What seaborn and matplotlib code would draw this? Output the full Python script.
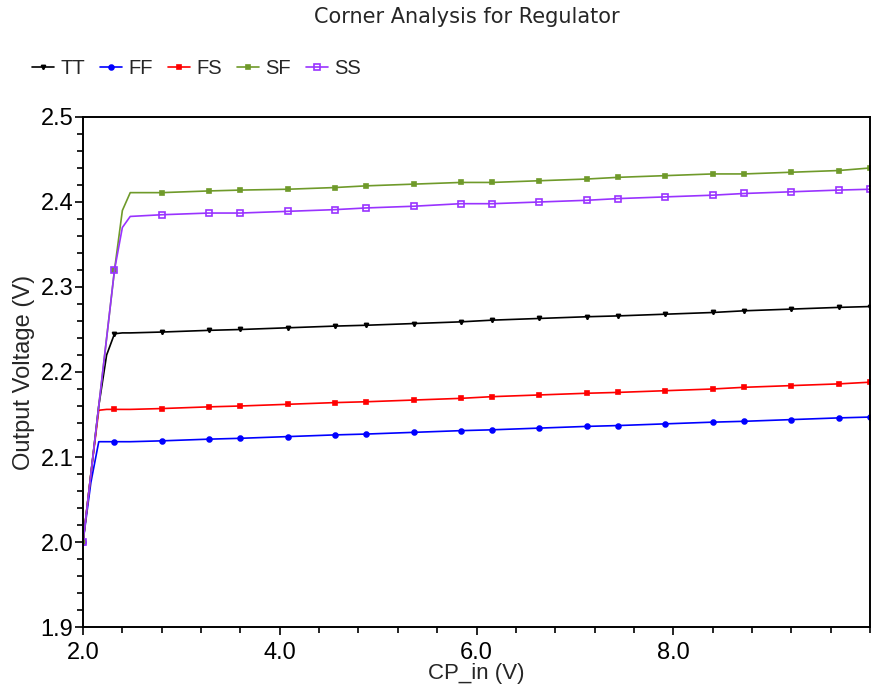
import matplotlib
matplotlib.use("Agg")
import matplotlib.pyplot as plt
import seaborn as sns
from matplotlib.ticker import MultipleLocator, FormatStrFormatter

# data
cp_in = [2.0, 2.08, 2.16, 2.24, 2.32, 2.40, 2.48,
         2.8, 3.28, 3.6, 4.08, 4.56, 4.88, 5.36, 5.84, 6.16, 6.64,
         7.12, 7.44, 7.92, 8.4, 8.72, 9.2, 9.68, 10.0]

tt = [2.0, 2.08, 2.16, 2.22, 2.245, 2.246, 2.246,
      2.247, 2.249, 2.250, 2.252, 2.254, 2.255, 2.257, 2.259, 2.261, 2.263,
      2.265, 2.266, 2.268, 2.270, 2.272, 2.274, 2.276, 2.277]
ff = [2.0, 2.07, 2.118, 2.118, 2.118, 2.118, 2.118,
      2.119, 2.121, 2.122, 2.124, 2.126, 2.127, 2.129, 2.131, 2.132, 2.134,
      2.136, 2.137, 2.139, 2.141, 2.142, 2.144, 2.146, 2.147]
fs = [2.0, 2.08, 2.155, 2.156, 2.156, 2.156, 2.156,
      2.157, 2.159, 2.160, 2.162, 2.164, 2.165, 2.167, 2.169, 2.171, 2.173,
      2.175, 2.176, 2.178, 2.180, 2.182, 2.184, 2.186, 2.188]
sf = [2.0, 2.08, 2.16, 2.24, 2.32, 2.39, 2.411,
      2.411, 2.413, 2.414, 2.415, 2.417, 2.419, 2.421, 2.423, 2.423, 2.425,
      2.427, 2.429, 2.431, 2.433, 2.433, 2.435, 2.437, 2.440]
ss = [2.0, 2.08, 2.16, 2.24, 2.32, 2.37, 2.383,
      2.385, 2.387, 2.387, 2.389, 2.391, 2.393, 2.395, 2.398, 2.398, 2.400,
      2.402, 2.404, 2.406, 2.408, 2.410, 2.412, 2.414, 2.415]

names = ["TT", "FF", "FS", "SF", "SS"]
series = [tt, ff, fs, sf, ss]
colors = ["black", "#0000ff", "#ff0000", "#6f9a2a", "#9933ff"]
markers = ["v", "o", "s", "s", "s"]
sizes = [3, 3.5, 3.5, 3.5, 5]
mark_idx = [0, 4] + list(range(7, len(cp_in)))

sns.set_style("white")
plt.rcParams["font.family"] = ["Liberation Sans", "DejaVu Sans"]

fig = plt.figure(figsize=(8.72, 6.98), dpi=100)
ax = fig.add_axes([0.0952, 0.1017, 0.9025, 0.7307])

for name, vals, c, m, s in zip(names, series, colors, markers, sizes):
    face = "none" if name == "SS" else c
    sns.lineplot(x=cp_in, y=vals, color=c, marker=m, markersize=s,
                 markerfacecolor=face, markeredgecolor=c, markeredgewidth=1.2,
                 markevery=mark_idx, linewidth=1.2, label=name, ax=ax,
                 estimator=None, sort=False)

ax.set_xlim(2.0, 10.0)
ax.set_ylim(1.9, 2.5)
ax.set_xticks([2, 4, 6, 8])
ax.xaxis.set_minor_locator(MultipleLocator(0.4))
ax.yaxis.set_major_locator(MultipleLocator(0.1))
ax.yaxis.set_minor_locator(MultipleLocator(0.02))
ax.xaxis.set_major_formatter(FormatStrFormatter("%.1f"))
ax.yaxis.set_major_formatter(FormatStrFormatter("%.1f"))
ax.tick_params(axis="both", which="major", direction="out", length=6, width=1.2,
               labelsize=17, colors="black", pad=1)
ax.tick_params(axis="x", which="major", pad=5)
ax.tick_params(axis="both", which="minor", direction="out", length=4, width=1.2,
               colors="black")
ax.tick_params(axis="x", which="both", bottom=True)
ax.tick_params(axis="y", which="both", left=True)
for sp in ax.spines.values():
    sp.set_color("black")
    sp.set_linewidth(1.4)

ax.set_xlabel("CP_in (V)", fontsize=16, labelpad=-1)
ax.set_ylabel("Output Voltage (V)", fontsize=17, labelpad=4)
fig.suptitle("Corner Analysis for Regulator", x=0.535, y=0.99, fontsize=15,
             family=["DejaVu Sans"])

ax.legend(loc="upper left", bbox_to_anchor=(-0.075, 1.13), ncol=5, frameon=False,
          fontsize=14.5, handlelength=1.1, handletextpad=0.3, columnspacing=0.75,
          borderaxespad=0)

fig.savefig("out.png", dpi=100)
